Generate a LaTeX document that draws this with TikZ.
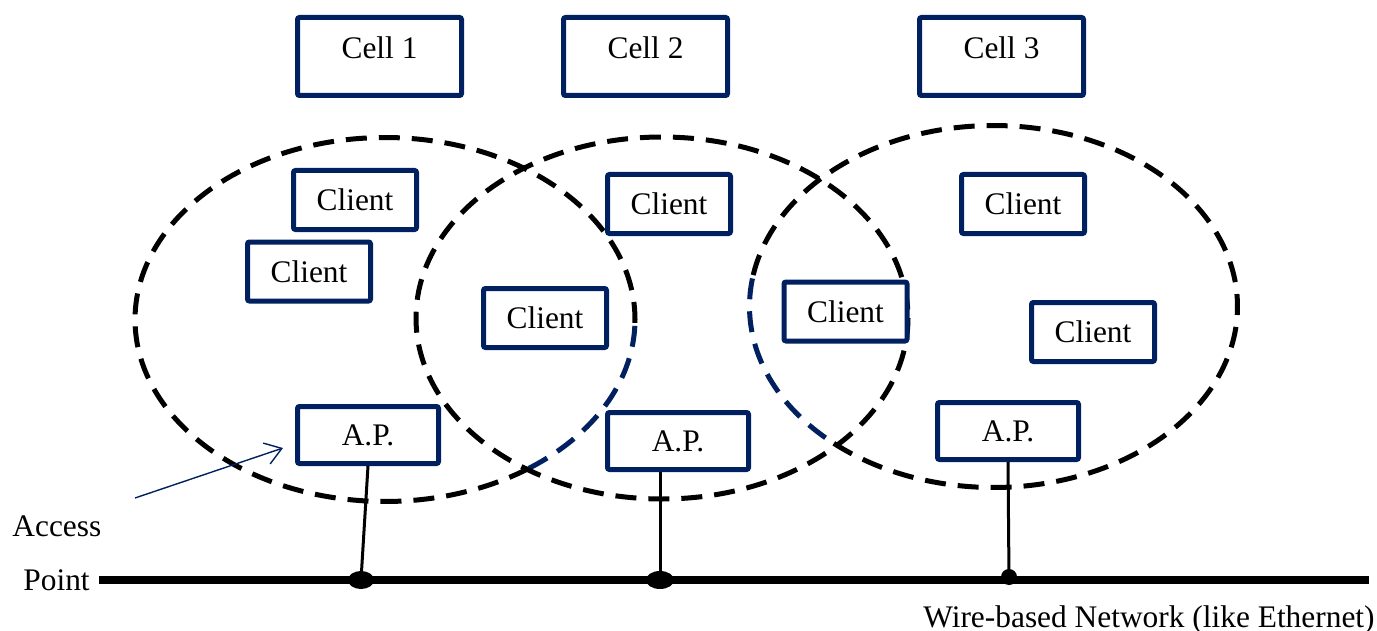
\documentclass[tikz,border=0pt]{standalone}
\usepackage{fontspec}
\setmainfont{Liberation Serif}
\usetikzlibrary{arrows.meta,shapes.geometric}
\definecolor{navy}{RGB}{0,32,96}
\tikzset{
  box/.style={draw=navy, line width=2.5pt, rounded corners=1pt, fill=white,
    inner sep=0pt, font=\fontsize{15.7}{18}\selectfont},
  cellbox/.style={box, minimum width=82pt, minimum height=39pt,
    text height=11pt, text depth=8.8pt},
  clientbox/.style={box, minimum width=61.5pt, minimum height=29.5pt},
  apbox/.style={box, minimum width=70.5pt, minimum height=28.5pt},
  cellrange/.style={line width=2.5pt, dash pattern=on 10.5pt off 6pt},
  cellrangeblue/.style={cellrange, draw=navy},
  dropline/.style={line width=1.5pt},
  busline/.style={line width=4pt},
  junction/.style={ellipse, fill=black, inner sep=0pt},
  textlabel/.style={font=\fontsize{15.7}{18}\selectfont, inner sep=0pt},
  pointer/.style={navy, line width=0.7pt, -{Straight Barb[length=8pt,width=11pt,line width=0.7pt]}}
}
\begin{document}
\begin{tikzpicture}[x=0.5pt, y=-0.5pt]
\useasboundingbox (0,0) rectangle (1377,631);

% coverage areas of the three cells
\draw[cellrange] plot[smooth, domain=55:362, samples=150]
  ({385+250*cos(\x)}, {319.5+182*sin(\x)});
\draw[cellrangeblue] plot[smooth, domain=2:55, samples=40]
  ({385+250*cos(\x)}, {319.5+182*sin(\x)});
\draw[cellrange] (662,318) ellipse [x radius=246, y radius=181];
\draw[cellrange] plot[smooth, domain=190:493.5, samples=150]
  ({993.5+244*cos(\x)}, {306.5+181*sin(\x)});
\draw[cellrangeblue] plot[smooth, domain=133.5:190, samples=40]
  ({993.5+244*cos(\x)}, {306.5+181*sin(\x)});

% cell titles
\node[cellbox] (cell1) at (379.5,56.5) {Cell 1};
\node[cellbox] (cell2) at (645.5,56.5) {Cell 2};
\node[cellbox] (cell3) at (1001.5,56.5) {Cell 3};

% wireless clients
\node[clientbox] (c1) at (355,200) {Client};
\node[clientbox] (c2) at (309,271.5) {Client};
\node[clientbox] (c3) at (545,318) {Client};
\node[clientbox] (c4) at (669,204) {Client};
\node[clientbox] (c5) at (845.5,311.5) {Client};
\node[clientbox] (c6) at (1023,204) {Client};
\node[clientbox] (c7) at (1093,332) {Client};

% access points
\node[apbox] (ap1) at (368,435) {A.P.};
\node[apbox] (ap2) at (678,441) {A.P.};
\node[apbox] (ap3) at (1008,431) {A.P.};

% wired backbone
\coordinate (busL) at (99,580);
\coordinate (busR) at (1369,580);
\draw[busline] (busL) -- (busR);
\node[junction, minimum width=13pt, minimum height=9pt] (j1) at (361,580) {};
\node[junction, minimum width=14pt, minimum height=9pt] (j2) at (660,580) {};
\node[junction, minimum width=8pt, minimum height=8pt] (j3) at (1009,577) {};
\draw[dropline] (ap1.south) -- (j1.center);
\draw[dropline] (ap2.south -| j2) -- (j2.center);
\draw[dropline] (ap3.south) -- (j3.center);

% labels
\node[textlabel, anchor=base west] (access) at (12,536) {Access};
\node[textlabel, anchor=base west] (point) at (23,590) {Point};
\node[textlabel, anchor=base west] (wire) at (923,627) {Wire-based Network (like Ethernet)};
\coordinate (tail) at (135,498);
\coordinate (tip) at (283,448);
\draw[pointer] (tail) -- (tip);
\end{tikzpicture}
\end{document}
